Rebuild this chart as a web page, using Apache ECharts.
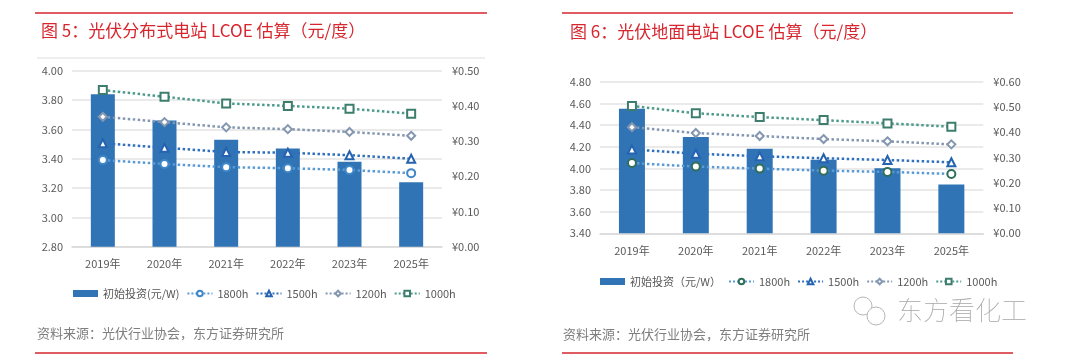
<!DOCTYPE html>
<html><head><meta charset="utf-8">
<script src="https://cdn.jsdelivr.net/npm/echarts@6/dist/echarts.min.js"></script>
<style>
html,body{margin:0;padding:0;background:#fff;width:1080px;height:359px;overflow:hidden}
#c1{position:absolute;left:0;top:0;width:540px;height:359px}
#c2{position:absolute;left:540px;top:0;width:540px;height:359px}
</style></head><body>
<div id="c1"></div><div id="c2"></div>
<script>
const categories = ['2019年','2020年','2021年','2022年','2023年','2025年'];
// Chart 5: distributed
const dist_invest = [3.84, 3.66, 3.53, 3.47, 3.38, 3.24];
const dist_1800h = [0.246, 0.235, 0.226, 0.223, 0.218, 0.209];
const dist_1500h = [0.294, 0.281, 0.269, 0.267, 0.260, 0.250];
const dist_1200h = [0.369, 0.354, 0.339, 0.334, 0.326, 0.315];
const dist_1000h = [0.445, 0.426, 0.407, 0.400, 0.392, 0.378];
// Chart 6: ground-mounted
const ground_invest = [4.55, 4.29, 4.18, 4.08, 4.00, 3.85];
const ground_1800h = [0.278, 0.264, 0.256, 0.248, 0.243, 0.235];
const ground_1500h = [0.332, 0.315, 0.305, 0.297, 0.290, 0.281];
const ground_1200h = [0.420, 0.397, 0.385, 0.373, 0.364, 0.352];
const ground_1000h = [0.504, 0.475, 0.460, 0.448, 0.435, 0.422];

const FONT = '"Noto Sans CJK SC", "Noto Sans", sans-serif';
const RED = '#d7262e';
const GRAY = '#595959';

function lineSeries(name, data, symbol, size, lineColor, markColor){
  return {
    name, type:'line', yAxisIndex:1, data, symbol, symbolSize:size,
    lineStyle:{type:'dotted', width:2.5, color:lineColor},
    itemStyle:{color:markColor, borderColor:markColor, borderWidth:1.6},
    z:5
  };
}

function build(cfg){
  return {
    animation:false,
    textStyle:{fontFamily:FONT},
    title:{text:cfg.title, left:cfg.titleX, top:cfg.titleY,
      textStyle:{color:RED, fontSize:17, fontWeight:'normal', fontFamily:FONT}},
    graphic:cfg.graphic,
    legend:{
      left:cfg.legendX, top:cfg.legendY, itemGap:7, itemWidth:25, itemHeight:7,
      textStyle:{color:GRAY, fontSize:11, fontFamily:FONT},
      data:[{name:cfg.barName, icon:'rect'}, '1800h','1500h','1200h','1000h']
    },
    grid:{left:cfg.grid.left, top:cfg.grid.top, width:cfg.grid.width, height:cfg.grid.height},
    xAxis:{type:'category', data:categories,
      axisLine:{show:true, lineStyle:{color:'#d9d9d9', width:1.5}},
      axisTick:{show:false},
      axisLabel:{color:GRAY, fontSize:11, margin:cfg.xMargin}},
    yAxis:[
      {type:'value', min:cfg.yMin, max:cfg.yMax, interval:0.2,
        axisLabel:{color:GRAY, fontSize:11, margin:9, formatter:v=>v.toFixed(2)},
        splitLine:{lineStyle:{color:'#e3e3e3', width:1.5}},
        axisLine:{show:false}, axisTick:{show:false}},
      {type:'value', min:0, max:cfg.y2Max, interval:0.1, position:'right',
        axisLabel:{color:GRAY, fontSize:11, margin:10, formatter:v=>'¥'+v.toFixed(2)},
        splitLine:{show:false}, axisLine:{show:false}, axisTick:{show:false}}
    ],
    series:[
      {name:cfg.barName, type:'bar', data:cfg.invest, barWidth:cfg.barWidth,
        itemStyle:{color:'#3174b5'}, z:2},
      lineSeries('1800h', cfg.s1800, 'emptyCircle', 8, '#5b9bd5', cfg.c1800),
      lineSeries('1500h', cfg.s1500, 'emptyTriangle', 8, '#2e70bd', '#2563b0'),
      lineSeries('1200h', cfg.s1200, 'emptyDiamond', 8, '#8497b0', '#8497b0'),
      lineSeries('1000h', cfg.s1000, 'emptyRect', 8, '#4d9a8a', '#3d7d6e')
    ]
  };
}

function redLine(x1,x2,y){ return {type:'line', shape:{x1,y1:y,x2,y2:y}, style:{stroke:RED, lineWidth:1.5}, silent:true}; }

const chart1 = echarts.init(document.getElementById('c1'), null, {renderer:'canvas'});
chart1.setOption(build({
  title:'图 5：光伏分布式电站 LCOE 估算（元/度）', titleX:36, titleY:17,
  barName:'初始投资(元/W)', legendX:68, legendY:283, xMargin:12,
  grid:{left:72, top:70.7, width:370, height:176},
  yMin:2.8, yMax:4.0, y2Max:0.5, barWidth:24,
  invest:dist_invest, s1800:dist_1800h, s1500:dist_1500h, s1200:dist_1200h, s1000:dist_1000h,
  c1800:'#3f87c8',
  graphic:[
    redLine(35,487,13), redLine(35,487,353),
    {type:'line', shape:{x1:37,y1:58,x2:485,y2:58}, style:{stroke:'#eeeeee', lineWidth:2}, silent:true},
    {type:'text', left:37, top:327, style:{text:'资料来源：光伏行业协会，东方证券研究所', fill:'#7f7f7f', fontSize:13, fontFamily:FONT}}
  ]
}));

const chart2 = echarts.init(document.getElementById('c2'), null, {renderer:'canvas'});
chart2.setOption(build({
  title:'图 6：光伏地面电站 LCOE 估算（元/度）', titleX:25, titleY:18,
  barName:'初始投资（元/W）', legendX:55, legendY:271, xMargin:12,
  grid:{left:60, top:81.7, width:383.3, height:151.6},
  yMin:3.4, yMax:4.8, y2Max:0.6, barWidth:26,
  invest:ground_invest, s1800:ground_1800h, s1500:ground_1500h, s1200:ground_1200h, s1000:ground_1000h,
  c1800:'#2f6e5a',
  graphic:[
    redLine(22,473,13), redLine(22,473,353),
    {type:'text', left:23, top:328, style:{text:'资料来源：光伏行业协会，东方证券研究所', fill:'#7f7f7f', fontSize:13, fontFamily:FONT}},
    {type:'text', left:357, top:297, style:{text:'东方看化工', fill:'#a6a6a6', fontSize:26, fontFamily:FONT, fontWeight:'lighter'}},
    {type:'circle', shape:{cx:323, cy:306, r:9}, style:{fill:'none', stroke:'#b5b5b5', lineWidth:1}, silent:true},
    {type:'circle', shape:{cx:336, cy:316, r:9}, style:{fill:'#fff', stroke:'#b5b5b5', lineWidth:1}, silent:true}
  ]
}));
</script>
</body></html>
